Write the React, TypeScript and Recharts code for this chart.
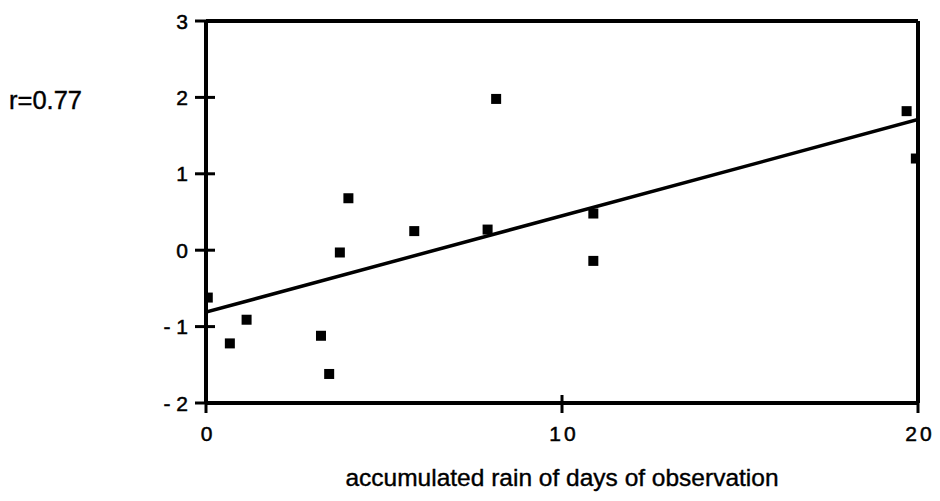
import {
  ScatterChart,
  Scatter,
  XAxis,
  YAxis,
  ZAxis,
  ReferenceLine,
} from "recharts";

// ─── Data ────────────────────────────────────────────────────────────────────

const RAIN_DAYS = [0.05, 0.67, 1.14, 3.23, 3.46, 3.76, 4.0, 5.85, 7.91, 8.15, 10.88, 10.88, 19.68, 19.94];
const RESIDUALS = [-0.62, -1.22, -0.91, -1.12, -1.62, -0.03, 0.68, 0.25, 0.27, 1.98, 0.48, -0.14, 1.82, 1.2];

const FIT_X = [0, 20];
const FIT_Y = [-0.81, 1.71];

const X_TICKS = [0, 10, 20];
const Y_TICKS = [-2, -1, 0, 1, 2, 3];

const R_LABEL = "r=0.77";
const X_LABEL = "accumulated rain of days of observation";

const points = RAIN_DAYS.map((x, i) => ({ x, y: RESIDUALS[i] }));
const fitLine = FIT_X.map((x, i) => ({ x, y: FIT_Y[i] }));

const FONT = '"Liberation Sans", Arial, Helvetica, sans-serif';
const INK = "#000";

// ─── Ticks that cross the axis line ──────────────────────────────────────────

function YTick(props: any) {
  const { x, y, payload } = props;
  const v = payload.value as number;
  const text = v < 0 ? `- ${Math.abs(v)}` : `${v}`;
  const inner = v > -2 && v < 3 ? 9 : 0;
  return (
    <g>
      <line x1={x - 11} x2={x + inner} y1={y} y2={y} stroke={INK} strokeWidth={3} />
      <text
        x={x - 18}
        y={y}
        dy={7.5}
        textAnchor="end"
        fontSize={21}
        fontFamily={FONT}
        fill={INK}
        stroke={INK}
        strokeWidth={0.5}
      >
        {text}
      </text>
    </g>
  );
}

function XTick(props: any) {
  const { x, y, payload } = props;
  return (
    <g>
      <line x1={x} x2={x} y1={y - 8} y2={y + 10} stroke={INK} strokeWidth={3} />
      <text
        x={x + 2}
        y={y + 38}
        textAnchor="middle"
        fontSize={21}
        letterSpacing={3}
        fontFamily={FONT}
        fill={INK}
        stroke={INK}
        strokeWidth={0.5}
      >
        {payload.value}
      </text>
    </g>
  );
}

// ─── Chart ───────────────────────────────────────────────────────────────────

export default function App() {
  return (
    <div style={{ position: "absolute", left: 0, top: 0, width: 940, height: 501, background: "#fff" }}>
      <div
        style={{
          position: "absolute",
          left: 9,
          top: 86,
          fontFamily: FONT,
          fontSize: 25.5,
          color: INK,
          WebkitTextStroke: "0.4px #000",
        }}
      >
        {R_LABEL}
      </div>
      <ScatterChart width={940} height={501} margin={{ top: 21, right: 22, bottom: 0, left: 0 }}>
        <XAxis
          type="number"
          dataKey="x"
          domain={[0, 20]}
          ticks={X_TICKS}
          allowDataOverflow
          height={98}
          tickSize={0}
          tickMargin={0}
          tick={<XTick />}
          axisLine={{ stroke: INK, strokeWidth: 4 }}
          tickLine={false}
          label={{
            value: X_LABEL,
            position: "insideBottom",
            offset: 15,
            fontSize: 24.5,
            fontFamily: FONT,
            fill: INK,
            stroke: INK,
            strokeWidth: 0.4,
          }}
        />
        <YAxis
          type="number"
          dataKey="y"
          domain={[-2, 3]}
          ticks={Y_TICKS}
          allowDataOverflow
          width={206}
          tickSize={0}
          tickMargin={0}
          tick={<YTick />}
          axisLine={{ stroke: INK, strokeWidth: 4 }}
          tickLine={false}
        />
        <ZAxis range={[80, 80]} />
        <ReferenceLine y={3} stroke={INK} strokeWidth={4} ifOverflow="extendDomain" />
        <ReferenceLine x={20} stroke={INK} strokeWidth={4} ifOverflow="extendDomain" />
        <Scatter
          data={fitLine}
          line={{ stroke: INK, strokeWidth: 3.5 }}
          shape={() => <g />}
          isAnimationActive={false}
        />
        <Scatter
          data={points}
          fill={INK}
          shape={(p: any) => (
            <rect x={p.cx - 5} y={p.cy - 5} width={10} height={10} fill={INK} />
          )}
          isAnimationActive={false}
        />
      </ScatterChart>
    </div>
  );
}
